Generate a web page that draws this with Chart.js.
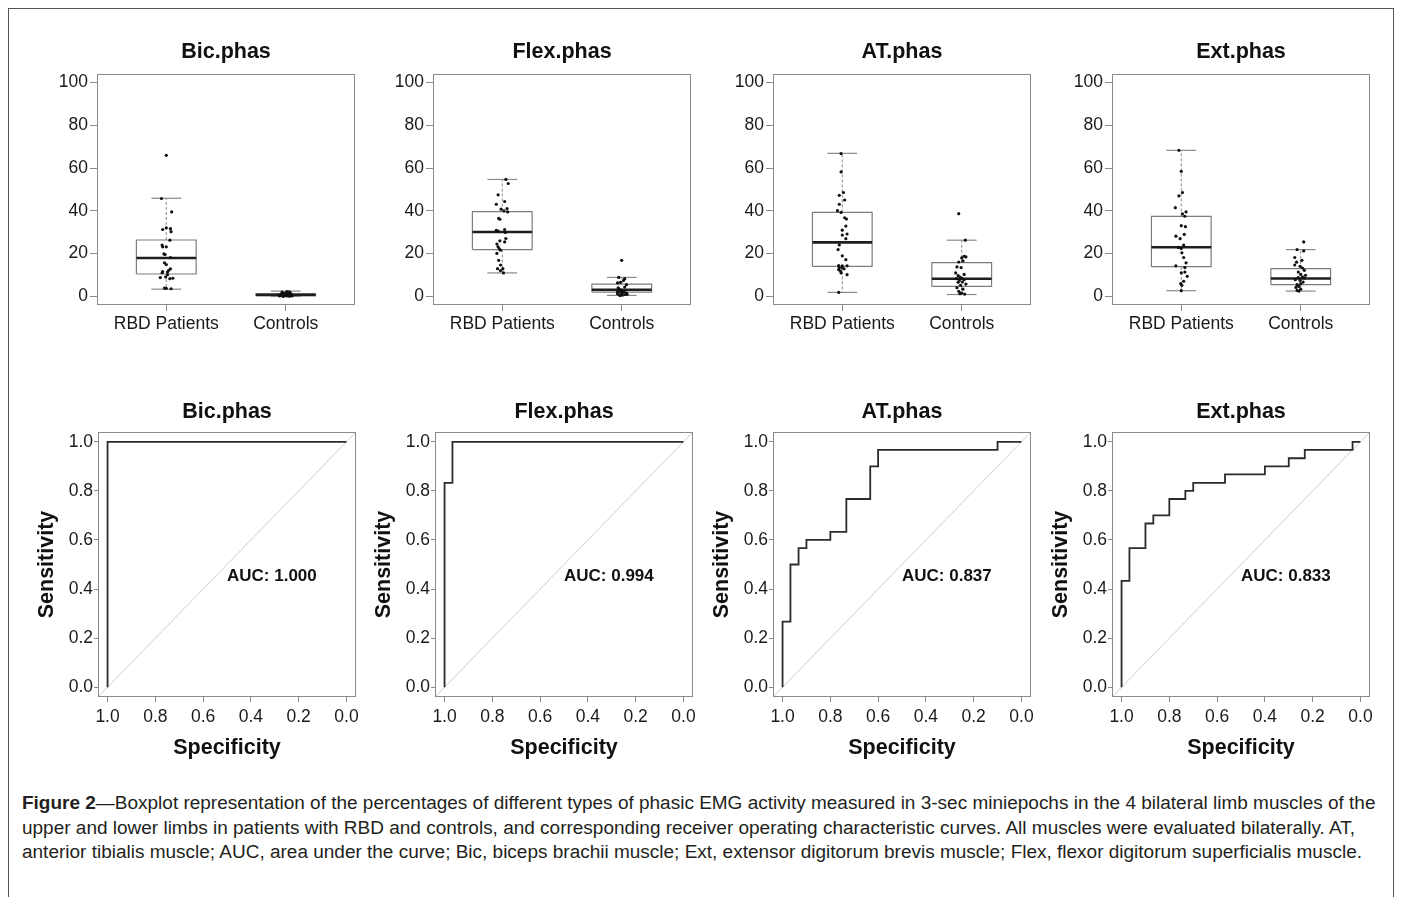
<!DOCTYPE html>
<html>
<head>
<meta charset="utf-8">
<script src="https://cdn.jsdelivr.net/npm/chart.js@4.4.1/dist/chart.umd.min.js"></script>
<style>
  html, body { margin: 0; padding: 0; background: #fff; }
  body { width: 1401px; height: 897px; position: relative; overflow: hidden; }
  .frame { position: absolute; left: 8px; top: 8px; width: 1384px; height: 900px; border: 1px solid #555; border-bottom: none; }
  .panel { position: absolute; }
  .caption { position: absolute; left: 22px; top: 791px; font-family: "Liberation Sans", Arial, sans-serif; font-size: 19.4px; line-height: 24.5px; color: #231f20; white-space: nowrap; }
</style>
</head>
<body>
<div class="frame"></div>
<div id="panels"></div>
<div class="caption" id="caption"><span id="capLine1"><b>Figure 2</b>—Boxplot representation of the percentages of different types of phasic EMG activity measured in 3-sec miniepochs in the 4 bilateral limb muscles of the</span><br>upper and lower limbs in patients with RBD and controls, and corresponding receiver operating characteristic curves. All muscles were evaluated bilaterally. AT,<br>anterior tibialis muscle; AUC, area under the curve; Bic, biceps brachii muscle; Ext, extensor digitorum brevis muscle; Flex, flexor digitorum superficialis muscle.</div>

<script>
// ---- data ----
const panelTitles = ['Bic.phas', 'Flex.phas', 'AT.phas', 'Ext.phas'];
const groupLabels = ['RBD Patients', 'Controls'];
const boxYTicks = [0, 20, 40, 60, 80, 100];
const rocTicks = [0, 0.2, 0.4, 0.6, 0.8, 1.0];
const aucLabels = ['AUC: 1.000', 'AUC: 0.994', 'AUC: 0.837', 'AUC: 0.833'];

// box stats: [lower whisker, Q1, median, Q3, upper whisker]
const bicRbdBox = [3.4, 10.5, 18.0, 26.4, 45.9];
const bicCtlBox = [0.0, 0.3, 0.8, 1.2, 2.5];
const flexRbdBox = [11.0, 21.9, 30.1, 39.7, 54.7];
const flexCtlBox = [0.5, 2.0, 3.1, 5.8, 8.9];
const atRbdBox = [1.9, 14.1, 25.3, 39.3, 66.9];
const atCtlBox = [0.9, 4.7, 8.3, 15.8, 26.3];
const extRbdBox = [2.7, 13.9, 23.0, 37.4, 68.3];
const extCtlBox = [2.5, 5.5, 8.4, 13.0, 21.9];

// individual values (%) and their horizontal jitter (category units)
const bicRbd = [66.0, 45.8, 39.5, 31.3, 32.1, 31.7, 30.3, 26.3, 24.0, 23.2, 23.2, 19.9, 19.6, 18.2, 15.7, 14.9, 12.9, 12.2, 11.6, 11.4, 11.1, 10.2, 8.8, 9.1, 8.3, 8.5, 3.9, 3.8, 3.6];
const bicRbdJitter = [0, -0.04, 0.045, -0.03, 0, 0.035, 0.04, 0.03, -0.035, -0.03, 0, -0.02, -0.01, 0.035, -0.015, 0, 0.035, 0.02, -0.03, 0.01, -0.035, 0.01, -0.05, -0.005, 0.03, 0.055, -0.015, 0, 0.04];
const bicCtl = [0.0, 0.1, 0.2, 0.2, 0.3, 0.4, 0.5, 0.5, 0.6, 0.7, 0.7, 0.8, 0.8, 0.9, 1.0, 1.0, 1.1, 1.2, 1.3, 1.5, 1.6, 1.8, 2.0, 2.2, 2.3, 0.6, 0.3, 1.4];
const bicCtlJitter = [-0.02, 0.03, -0.05, 0.01, 0.04, -0.03, 0, 0.05, -0.04, 0.02, -0.01, 0.035, -0.045, 0.015, -0.025, 0.045, 0, -0.035, 0.025, -0.015, 0.04, 0.02, -0.03, 0.03, 0.01, -0.055, 0.055, -0.005];

const flexRbd = [54.7, 52.8, 47.5, 44.4, 43.1, 41.1, 40.8, 40.0, 39.5, 36.5, 36.1, 30.9, 30.6, 31.3, 29.9, 27.1, 25.5, 26.0, 24.5, 23.2, 22.3, 21.6, 20.1, 16.9, 14.7, 13.0, 13.0, 12.1, 11.0];
const flexRbdJitter = [0.03, 0.05, -0.035, 0.02, -0.05, 0.04, -0.01, 0.015, 0.045, -0.03, -0.02, -0.05, -0.035, 0.02, 0.025, 0.03, 0.02, -0.02, -0.045, -0.035, -0.025, -0.015, -0.045, -0.03, -0.015, -0.04, 0.005, -0.015, 0.01];
const flexCtl = [16.9, 8.9, 8.3, 7.5, 6.3, 6.6, 5.5, 4.4, 3.4, 2.8, 2.2, 1.6, 2.0, 1.6, 0.8, 0.9, 1.3, 0.6, 2.2, 3.0, 1.0, 2.5, 4.0, 1.8, 0.4];
const flexCtlJitter = [0, -0.025, 0.025, 0.015, -0.035, -0.01, 0.04, 0.025, -0.02, 0, -0.035, 0, 0.015, 0.04, -0.02, 0.03, -0.035, 0.005, -0.01, -0.005, 0.045, 0.02, -0.03, 0.01, -0.015];

const atRbd = [66.8, 58.2, 48.6, 47.3, 45.1, 43.1, 40.1, 39.3, 36.8, 36.2, 32.9, 31.0, 29.2, 28.7, 27.0, 24.1, 21.9, 19.0, 17.2, 14.4, 14.3, 14.3, 13.5, 13.3, 12.5, 11.9, 12.9, 11.0, 10.2, 1.9];
const atRbdJitter = [-0.01, -0.01, 0.01, -0.025, 0.02, -0.025, -0.04, -0.01, 0.02, 0.035, 0.03, 0, 0.04, 0, 0.03, -0.025, -0.035, 0, 0.03, -0.03, 0, 0.04, -0.025, 0, -0.03, -0.015, 0.015, -0.01, 0.04, -0.03];
const atCtl = [38.7, 26.3, 18.8, 18.5, 18.0, 16.1, 16.6, 13.8, 13.5, 11.0, 10.3, 9.7, 9.1, 8.3, 8.6, 7.5, 7.8, 6.7, 6.6, 5.8, 5.2, 4.1, 3.4, 2.4, 1.6, 1.3, 1.1];
const atCtlJitter = [-0.025, 0.03, 0.02, 0.035, 0, -0.025, 0.01, -0.04, -0.005, -0.05, 0.02, -0.03, -0.015, -0.045, 0, -0.02, 0.02, 0.005, -0.03, 0.035, -0.01, -0.04, 0.01, -0.025, 0, -0.015, 0.025];

const extRbd = [68.3, 58.5, 48.6, 47.0, 41.5, 39.5, 38.6, 37.5, 33.1, 32.6, 28.2, 29.0, 27.0, 24.0, 22.4, 22.9, 20.4, 18.2, 15.7, 14.3, 13.5, 11.4, 11.0, 9.4, 7.1, 6.0, 5.2, 2.7];
const extRbdJitter = [-0.02, 0, 0.01, -0.02, -0.05, 0.04, 0.01, 0.03, 0, 0.035, -0.045, 0.025, -0.01, 0.02, 0, -0.025, 0.005, 0.02, 0.04, -0.045, 0.03, 0.03, 0, 0.05, 0.02, -0.005, 0.005, 0];
const extCtl = [25.5, 21.9, 21.3, 18.2, 16.0, 16.9, 14.7, 14.1, 13.3, 12.2, 11.4, 10.3, 9.9, 9.1, 8.8, 8.6, 7.8, 7.5, 6.7, 6.0, 5.5, 4.7, 4.2, 3.4, 2.8, 2.5];
const extCtlJitter = [0.025, -0.03, 0.025, -0.05, -0.035, 0.01, -0.05, -0.005, 0.015, 0.03, -0.02, 0, 0.04, 0.015, -0.02, 0.03, -0.045, -0.005, 0.02, 0, -0.03, -0.015, -0.04, 0, -0.03, -0.015];

// ROC curve vertices (specificity, sensitivity)
const bicRocSpec = [1, 1, 0];
const bicRocSens = [0, 1, 1];
const flexRocSpec = [1, 1, 0.967, 0.967, 0];
const flexRocSens = [0, 0.833, 0.833, 1, 1];
const atRocSpec = [1, 1, 0.967, 0.967, 0.933, 0.933, 0.9, 0.9, 0.8, 0.8, 0.733, 0.733, 0.633, 0.633, 0.6, 0.6, 0.1, 0.1, 0];
const atRocSens = [0, 0.267, 0.267, 0.5, 0.5, 0.567, 0.567, 0.6, 0.6, 0.633, 0.633, 0.767, 0.767, 0.9, 0.9, 0.967, 0.967, 1, 1];
const extRocSpec = [1, 1, 0.967, 0.967, 0.9, 0.9, 0.867, 0.867, 0.8, 0.8, 0.733, 0.733, 0.7, 0.7, 0.567, 0.567, 0.4, 0.4, 0.3, 0.3, 0.233, 0.233, 0.033, 0.033, 0];
const extRocSens = [0, 0.433, 0.433, 0.567, 0.567, 0.667, 0.667, 0.7, 0.7, 0.767, 0.767, 0.8, 0.8, 0.833, 0.833, 0.867, 0.867, 0.9, 0.9, 0.933, 0.933, 0.967, 0.967, 1, 1];

const boxPanels = [
  { rbd: bicRbd, rbdJ: bicRbdJitter, ctl: bicCtl, ctlJ: bicCtlJitter, rbdBox: bicRbdBox, ctlBox: bicCtlBox },
  { rbd: flexRbd, rbdJ: flexRbdJitter, ctl: flexCtl, ctlJ: flexCtlJitter, rbdBox: flexRbdBox, ctlBox: flexCtlBox },
  { rbd: atRbd, rbdJ: atRbdJitter, ctl: atCtl, ctlJ: atCtlJitter, rbdBox: atRbdBox, ctlBox: atCtlBox },
  { rbd: extRbd, rbdJ: extRbdJitter, ctl: extCtl, ctlJ: extCtlJitter, rbdBox: extRbdBox, ctlBox: extCtlBox },
];
const rocPanels = [
  { spec: bicRocSpec, sens: bicRocSens },
  { spec: flexRocSpec, sens: flexRocSens },
  { spec: atRocSpec, sens: atRocSens },
  { spec: extRocSpec, sens: extRocSens },
];

// ---- layout / style ----
const FONT = '"Liberation Sans", Arial, sans-serif';
const FRAME = '#8a8a8a';
const boxLefts = [97, 433, 773, 1112];
const rocLefts = [98, 435, 773, 1112];
const AREA_W = 258;

Chart.defaults.font.family = FONT;
Chart.defaults.color = '#1a1a1a';

// squeeze caption's first line to the figure width
(function () {
  const cap = document.getElementById('caption');
  const w = document.getElementById('capLine1').getBoundingClientRect().width;
  cap.style.fontSize = (19.4 * 1353 / w).toFixed(2) + 'px';
})();

const framePlugin = {
  id: 'frame',
  afterDatasetsDraw(chart) {
    const a = chart.chartArea, ctx = chart.ctx;
    ctx.save();
    ctx.strokeStyle = FRAME;
    ctx.lineWidth = 1;
    ctx.strokeRect(Math.round(a.left) + 0.5, Math.round(a.top) + 0.5, Math.round(a.right - a.left) - 1, Math.round(a.bottom - a.top) - 1);
    ctx.restore();
  }
};

const aucPlugin = {
  id: 'auc',
  afterDatasetsDraw(chart, args, opts) {
    if (!opts.text) return;
    const ctx = chart.ctx;
    ctx.save();
    ctx.font = 'bold 17px ' + FONT;
    ctx.fillStyle = '#111';
    ctx.textAlign = 'left';
    ctx.textBaseline = 'middle';
    ctx.fillText(opts.text, chart.scales.x.getPixelForValue(0.5), chart.scales.y.getPixelForValue(0.45));
    ctx.restore();
  }
};

function fixSize(size) {
  return function (scale) {
    if (scale.isHorizontal()) scale.height = size; else scale.width = size;
    scale.paddingTop = 0; scale.paddingBottom = 0; scale.paddingLeft = 0; scale.paddingRight = 0;
  };
}

function seg(points, color, width, dash) {
  return {
    type: 'scatter', data: points, showLine: true, borderColor: color, borderWidth: width,
    borderDash: dash || [], pointRadius: 0, fill: false, tension: 0
  };
}

function boxSets(stats, c) {
  const [lo, q1, med, q3, hi] = stats;
  const h = 0.25, cap = 0.125;
  return [
    seg([{ x: c - h, y: med }, { x: c + h, y: med }], '#1e1e1e', 2.6),
    seg([{ x: c - h, y: q1 }, { x: c + h, y: q1 }, { x: c + h, y: q3 }, { x: c - h, y: q3 }, { x: c - h, y: q1 }], '#7d7d7d', 1.2),
    seg([{ x: c, y: q3 }, { x: c, y: hi }], '#8a8a8a', 1, [3, 2]),
    seg([{ x: c, y: q1 }, { x: c, y: lo }], '#8a8a8a', 1, [3, 2]),
    seg([{ x: c - cap, y: hi }, { x: c + cap, y: hi }], '#8a8a8a', 1.2),
    seg([{ x: c - cap, y: lo }, { x: c + cap, y: lo }], '#8a8a8a', 1.2),
  ];
}

function dots(values, jitter, c) {
  return {
    type: 'scatter',
    data: values.map((v, i) => ({ x: c + jitter[i], y: v })),
    pointRadius: 1.6, pointBackgroundColor: '#111', pointBorderWidth: 0, showLine: false
  };
}

function makeCanvas(left, top, w, h) {
  const div = document.createElement('div');
  div.className = 'panel';
  div.style.left = left + 'px'; div.style.top = top + 'px';
  div.style.width = w + 'px'; div.style.height = h + 'px';
  const cv = document.createElement('canvas');
  cv.width = w; cv.height = h;
  cv.style.width = w + 'px'; cv.style.height = h + 'px';
  div.appendChild(cv);
  document.getElementById('panels').appendChild(div);
  return cv;
}

const titleFont = { family: FONT, size: 21.5, weight: 'bold', lineHeight: 1.2 };
const tickFont = { family: FONT, size: 17.5, lineHeight: 1.2 };

// ---- boxplot row ----
boxPanels.forEach((p, k) => {
  const cv = makeCanvas(boxLefts[k] - 60, 20, 60 + AREA_W + 10, 330);
  new Chart(cv, {
    type: 'scatter',
    data: {
      datasets: [
        dots(p.rbd, p.rbdJ, 1), dots(p.ctl, p.ctlJ, 2),
        ...boxSets(p.rbdBox, 1), ...boxSets(p.ctlBox, 2)
      ]
    },
    options: {
      responsive: false, animation: false, events: [],
      layout: { padding: { left: 0, right: 10, top: 0, bottom: 0 } },
      plugins: {
        legend: { display: false }, tooltip: { enabled: false },
        title: { display: true, text: panelTitles[k], font: titleFont, color: '#111', fullSize: false, padding: { top: 19, bottom: 9.2 } },
      },
      scales: {
        x: {
          type: 'linear', min: 0.42, max: 2.58,
          afterBuildTicks: s => { s.ticks = [{ value: 1 }, { value: 2 }]; },
          afterFit: fixSize(45),
          ticks: { font: tickFont, color: '#1a1a1a', padding: 2.5, maxRotation: 0, callback: v => groupLabels[v - 1] },
          grid: { drawOnChartArea: false, drawTicks: true, tickLength: 6, color: FRAME },
          border: { display: false }
        },
        y: {
          type: 'linear', min: -4, max: 104,
          afterBuildTicks: s => { s.ticks = boxYTicks.map(v => ({ value: v })); },
          afterFit: fixSize(60),
          ticks: { font: tickFont, color: '#1a1a1a', padding: 2 },
          grid: { drawOnChartArea: false, drawTicks: true, tickLength: 7, color: FRAME },
          border: { display: false }
        }
      }
    },
    plugins: [framePlugin]
  });
});

// ---- ROC row ----
rocPanels.forEach((p, k) => {
  const cv = makeCanvas(rocLefts[k] - 75, 370, 75 + AREA_W + 10, 392);
  new Chart(cv, {
    type: 'scatter',
    data: {
      datasets: [
        seg(p.spec.map((s, i) => ({ x: s, y: p.sens[i] })), '#2b2b2b', 1.8),
        seg([{ x: 1.04, y: 1 - 1.04 }, { x: -0.04, y: 1 - (-0.04) }], '#cfcfcf', 1)
      ]
    },
    options: {
      responsive: false, animation: false, events: [],
      layout: { padding: { left: 0, right: 10, top: 0, bottom: 0 } },
      plugins: {
        legend: { display: false }, tooltip: { enabled: false },
        title: { display: true, text: panelTitles[k], font: titleFont, color: '#111', fullSize: false, padding: { top: 29, bottom: 7.2 } },
        auc: { text: aucLabels[k] }
      },
      scales: {
        x: {
          type: 'linear', min: -0.04, max: 1.04, reverse: true,
          afterBuildTicks: s => { s.ticks = rocTicks.map(v => ({ value: v })); },
          afterFit: fixSize(65),
          ticks: { font: tickFont, color: '#1a1a1a', padding: 5, maxRotation: 0, callback: v => v.toFixed(1) },
          grid: { drawOnChartArea: false, drawTicks: true, tickLength: 5, color: FRAME },
          border: { display: false },
          title: { display: true, text: 'Specificity', font: titleFont, color: '#111', padding: { top: 0, bottom: 1 } }
        },
        y: {
          type: 'linear', min: -0.04, max: 1.04,
          afterBuildTicks: s => { s.ticks = rocTicks.map(v => ({ value: v })); },
          afterFit: fixSize(75),
          ticks: { font: tickFont, color: '#1a1a1a', padding: 1, callback: v => v.toFixed(1) },
          grid: { drawOnChartArea: false, drawTicks: true, tickLength: 4, color: FRAME },
          border: { display: false },
          title: { display: true, text: 'Sensitivity', font: titleFont, color: '#111', padding: { top: 11, bottom: 0 } }
        }
      }
    },
    plugins: [framePlugin, aucPlugin]
  });
});
</script>
</body>
</html>
